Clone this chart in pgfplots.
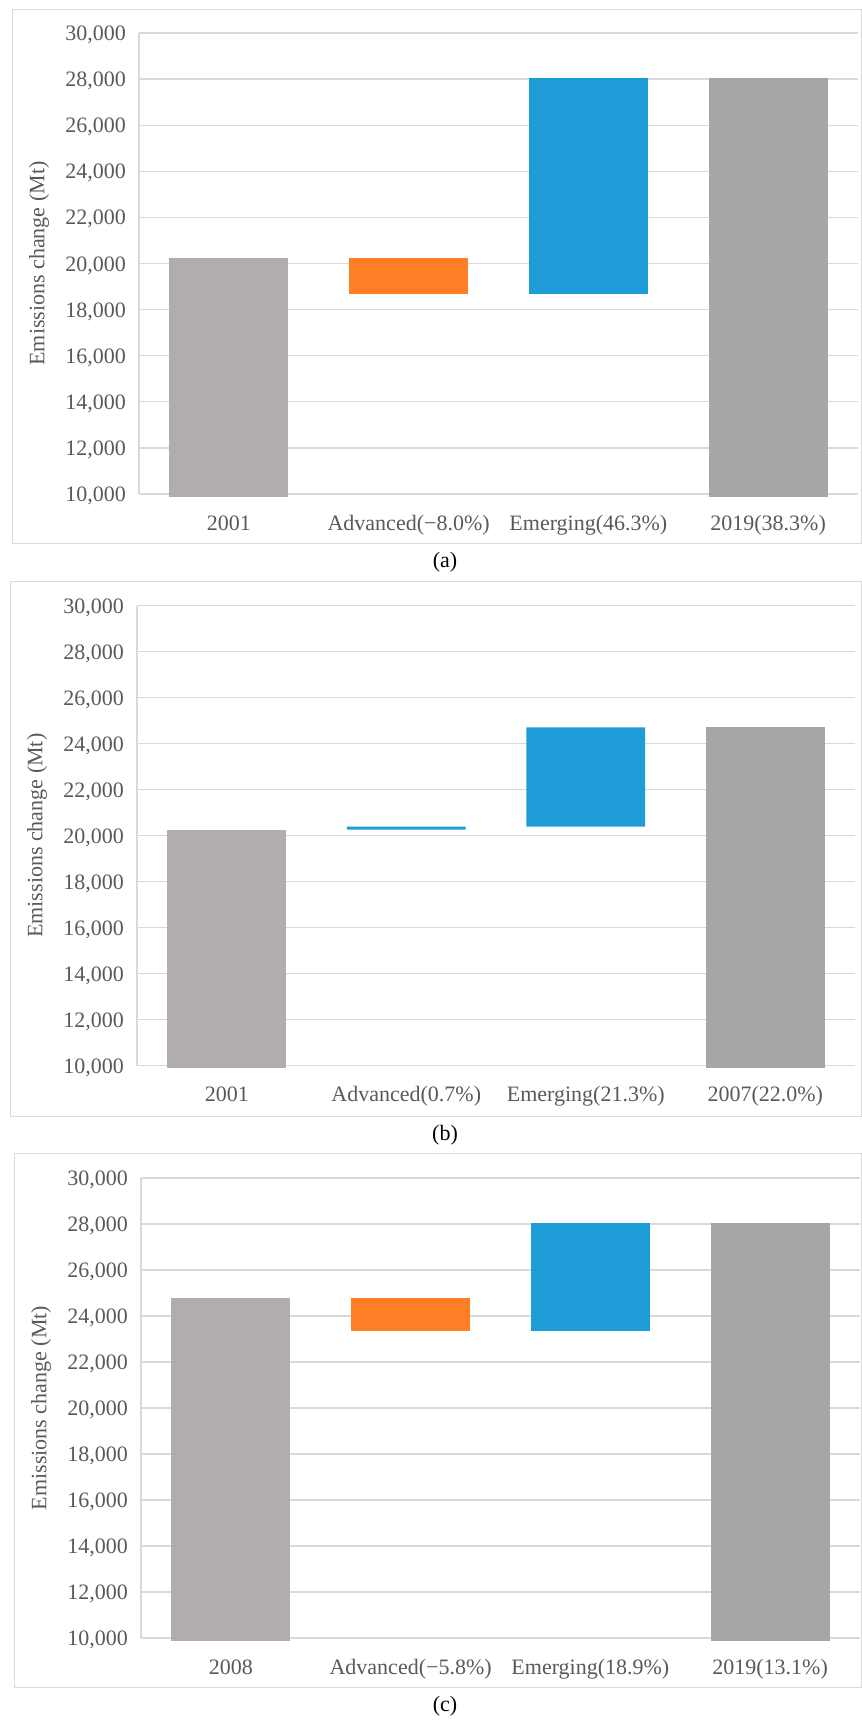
\documentclass[border=0pt]{standalone}
\usepackage{pgfplots}
\pgfplotsset{compat=1.18}
\usepackage{fontspec}
\setmainfont{Liberation Serif}
\definecolor{txt}{HTML}{595959}
\definecolor{gridc}{HTML}{D9D9D9}
\definecolor{gwarm}{HTML}{B0ADAC}
\definecolor{gneut}{HTML}{A6A6A6}
\definecolor{orng}{HTML}{FF7F27}
\definecolor{blu}{HTML}{1E9CD7}
\pgfplotsset{
  wf/.style={
    scale only axis,
    ybar stacked,
    bar width=0.662,
    xmin=-0.5, xmax=3.5,
    ymin=10000, ymax=30000,
    ytick={10000,12000,...,30000},
    xtick={0,1,2,3},
    scaled y ticks=false,
    /pgf/number format/1000 sep={,},
    /pgf/number format/assume math mode=true,
    axis x line=bottom, axis y line=left,
    axis line style={draw=gridc, line width=1.2pt, -},
    ymajorgrids,
    grid style={draw=gridc, line width=1.3pt},
    major tick length=0pt,
    tick style={draw=none},
    clip=false,
    tick label style={text=txt},
    xticklabel style={anchor=base, yshift=-36pt},
    yticklabel style={anchor=base east, inner sep=0pt, xshift=-13pt, yshift=-7.5pt},
  },
  basebar/.style={draw=none, fill=none, overlay, forget plot},
  visbar/.style={draw=none, fill=#1},
}
\begin{document}
\fontsize{22}{26}\selectfont
\begin{tikzpicture}
\useasboundingbox (0pt,0pt) rectangle (862pt,-1722pt);
% borders
\draw[gridc, line width=1pt] (12pt,-9pt) rectangle (861pt,-543pt);
\draw[gridc, line width=1pt] (10pt,-581pt) rectangle (861pt,-1116pt);
\draw[gridc, line width=1pt] (14pt,-1153pt) rectangle (861pt,-1687pt);
% panel (a)
\begin{axis}[wf, at={(139pt,-494pt)}, anchor=south west, width=719pt, height=461pt,
  xticklabels={2001, Advanced(−8.0\%), Emerging(46.3\%), 2019(38.3\%)}]
\addplot[basebar] coordinates {(0,9880) (1,18670) (2,18670) (3,9880)};
\addplot[visbar=gwarm] coordinates {(0,10380) (1,0) (2,0) (3,0)};
\addplot[visbar=gneut] coordinates {(0,0) (1,0) (2,0) (3,18150)};
\addplot[visbar=orng] coordinates {(0,0) (1,1590) (2,0) (3,0)};
\addplot[visbar=blu] coordinates {(0,0) (1,0) (2,9360) (3,0)};
\end{axis}
% panel (b)
\begin{axis}[wf, at={(137pt,-1065.7pt)}, anchor=south west, width=718pt, height=460pt,
  xticklabels={2001, Advanced(0.7\%), Emerging(21.3\%), 2007(22.0\%)}]
\addplot[basebar] coordinates {(0,9880) (1,20260) (2,20400) (3,9880)};
\addplot[visbar=gwarm] coordinates {(0,10380) (1,0) (2,0) (3,0)};
\addplot[visbar=gneut] coordinates {(0,0) (1,0) (2,0) (3,14830)};
\addplot[visbar=orng] coordinates {(0,0) (1,0) (2,0) (3,0)};
\addplot[visbar=blu] coordinates {(0,0) (1,140) (2,4310) (3,0)};
\end{axis}
% panel (c)
\begin{axis}[wf, at={(141pt,-1638pt)}, anchor=south west, width=719pt, height=460pt,
  xticklabels={2008, Advanced(−5.8\%), Emerging(18.9\%), 2019(13.1\%)}]
\addplot[basebar] coordinates {(0,9880) (1,23350) (2,23350) (3,9880)};
\addplot[visbar=gwarm] coordinates {(0,14910) (1,0) (2,0) (3,0)};
\addplot[visbar=gneut] coordinates {(0,0) (1,0) (2,0) (3,18160)};
\addplot[visbar=orng] coordinates {(0,0) (1,1440) (2,0) (3,0)};
\addplot[visbar=blu] coordinates {(0,0) (1,0) (2,4690) (3,0)};
\end{axis}
% y labels and captions
\node[rotate=90, text=txt] at (39pt,-263.5pt) {Emissions change (Mt)};
\node[rotate=90, text=txt] at (37pt,-835.7pt) {Emissions change (Mt)};
\node[rotate=90, text=txt] at (41pt,-1408pt) {Emissions change (Mt)};
\node at (445pt,-562pt) {(a)};
\node at (445pt,-1135pt) {(b)};
\node at (445pt,-1706pt) {(c)};
\end{tikzpicture}
\end{document}
